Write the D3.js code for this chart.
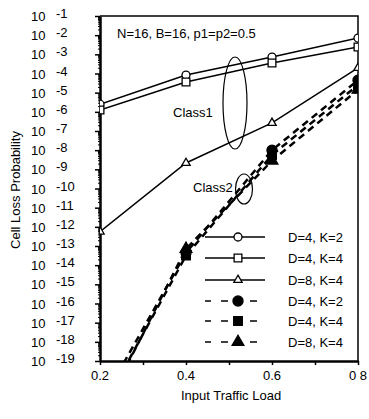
<!DOCTYPE html>
<html>
<head>
<meta charset="utf-8">
<script src="https://cdn.jsdelivr.net/npm/d3@7"></script>
<style>
  body { margin: 0; background: #fff; }
  svg { display: block; }
  text { font-family: "Liberation Sans", Arial, sans-serif; fill: #000; }
</style>
</head>
<body>
<div id="chart"></div>
<script>
// input traffic load (x)
const loads = [0.2, 0.4, 0.6, 0.8];
// log10 of cell loss probability
const class1_D4K2 = [-5.6, -4.08, -3.14, -2.15];
const class1_D4K4 = [-5.9, -4.44, -3.45, -2.62];
const class1_D8K4 = [-12.25, -8.67, -6.58, -3.71];
const class2_D4K2 = [-21.3, -13.35, -8.0, -4.35];
const class2_D4K4 = [-21.7, -13.5, -8.25, -4.6];
const class2_D8K4 = [-22.0, -13.15, -8.55, -4.85];
const seriesNames = ['D=4, K=2', 'D=4, K=4', 'D=8, K=4', 'D=4, K=2', 'D=4, K=4', 'D=8, K=4'];
const decades = d3.range(-19, 0); // -19 .. -1
const xTicks = [0.2, 0.4, 0.6, 0.8];

const W = 369, H = 419;
const margin = { top: 16, right: 11, bottom: 58, left: 100 };

const svg = d3.select('#chart').append('svg')
  .attr('width', W)
  .attr('height', H);

const x = d3.scaleLinear().domain([0.2, 0.8]).range([margin.left, W - margin.right]);
const y = d3.scaleLog().domain([1e-19, 1e-1]).range([H - margin.bottom, margin.top]);

const series = [
  { vals: class1_D4K2, sym: d3.symbolCircle, size: 50, fill: '#fff', dash: null },
  { vals: class1_D4K4, sym: d3.symbolSquare, size: 60, fill: '#fff', dash: null },
  { vals: class1_D8K4, sym: d3.symbolTriangle, size: 30, fill: '#fff', dash: null },
  { vals: class2_D4K2, sym: d3.symbolCircle, size: 80, fill: '#000', dash: '7,5' },
  { vals: class2_D4K4, sym: d3.symbolSquare, size: 75, fill: '#000', dash: '7,5' },
  { vals: class2_D8K4, sym: d3.symbolTriangle, size: 60, fill: '#000', dash: '7,5' }
];
series.forEach((s, i) => {
  s.name = seriesNames[i];
  s.points = loads.map((l, j) => ({ load: l, p: Math.pow(10, s.vals[j]) }));
});

// clip to plot area
svg.append('clipPath').attr('id', 'clip')
  .append('rect')
  .attr('x', x(0.2)).attr('y', y(1e-1))
  .attr('width', x(0.8) - x(0.2)).attr('height', y(1e-19) - y(1e-1));

// frame top and right
svg.append('path')
  .attr('d', `M${x(0.2)},${y(1e-1)}H${x(0.8)}V${y(1e-19)}`)
  .attr('fill', 'none').attr('stroke', '#000').attr('stroke-width', 1.5);

// y axis: major ticks + minor ticks
const minor = [];
decades.forEach(d => { if (d < -1) for (let k = 2; k <= 9; k++) minor.push(k * Math.pow(10, d)); });
svg.append('g')
  .attr('transform', `translate(${x(0.2)},0)`)
  .call(d3.axisLeft(y).tickValues(minor).tickSize(2).tickFormat(''))
  .call(g => g.select('.domain').remove());
const yAxis = svg.append('g')
  .attr('transform', `translate(${x(0.2)},0)`)
  .call(d3.axisLeft(y).tickValues(decades.map(d => Math.pow(10, d))).tickSize(5).tickSizeOuter(0).tickFormat(''));
yAxis.select('.domain').attr('stroke-width', 2.5);
yAxis.selectAll('.tick line').attr('stroke-width', 1.5);

// y tick labels "10 -n"
const yl = svg.append('g').selectAll('g').data(decades).join('g')
  .attr('transform', d => `translate(0,${y(Math.pow(10, d))})`);
yl.append('text')
  .attr('x', 31).attr('y', 5)
  .style('font-size', '13px')
  .text('10');
yl.append('text')
  .attr('x', 56).attr('y', 2)
  .style('font-size', '13px')
  .text(d => '-' + Math.abs(d));

// x axis
const xAxis = svg.append('g')
  .attr('transform', `translate(0,${y(1e-19)})`)
  .call(d3.axisBottom(x).tickValues(d3.range(0.2, 0.81, 0.1)).tickSize(4).tickSizeOuter(0).tickFormat(''));
xAxis.select('.domain').attr('stroke-width', 2.5);
xAxis.selectAll('.tick line').attr('stroke-width', 1.5);
svg.append('g').selectAll('text').data(xTicks).join('text')
  .attr('x', d => x(d)).attr('y', y(1e-19) + 19)
  .attr('text-anchor', 'middle')
  .style('font-size', '13px')
  .text(d => d === 0.8 ? '0 8' : d3.format('.1f')(d));

// axis titles
svg.append('text')
  .attr('x', 231).attr('y', 400)
  .attr('text-anchor', 'middle')
  .style('font-size', '13px')
  .text('Input Traffic Load');
svg.append('text')
  .attr('transform', 'translate(20,190) rotate(-90)')
  .attr('text-anchor', 'middle')
  .style('font-size', '13px')
  .text('Cell Loss Probability');

// lines
const line = d3.line().x(d => x(d.load)).y(d => y(d.p));
const plot = svg.append('g').attr('clip-path', 'url(#clip)');
series.forEach(s => {
  plot.append('path')
    .datum(s.points)
    .attr('d', line)
    .attr('fill', 'none')
    .attr('stroke', '#000')
    .attr('stroke-width', s.dash ? 2.5 : 1.5)
    .attr('stroke-dasharray', s.dash);
});
// markers
series.forEach(s => {
  plot.selectAll(null).data(s.points.filter(d => d.p >= 1e-19)).join('path')
    .attr('transform', d => `translate(${x(d.load)},${y(d.p)})`)
    .attr('d', d3.symbol().type(s.sym).size(s.size))
    .attr('fill', s.fill)
    .attr('stroke', '#000')
    .attr('stroke-width', 1.3);
});

// annotations
svg.append('text')
  .attr('x', 117).attr('y', 38)
  .style('font-size', '13px')
  .text('N=16, B=16, p1=p2=0.5');
svg.append('ellipse')
  .attr('cx', 235).attr('cy', 103).attr('rx', 12).attr('ry', 46)
  .attr('fill', 'none').attr('stroke', '#000').attr('stroke-width', 1.2);
svg.append('text')
  .attr('x', 173).attr('y', 117)
  .style('font-size', '13px')
  .text('Class1');
svg.append('ellipse')
  .attr('cx', 244).attr('cy', 189).attr('rx', 8.5).attr('ry', 15)
  .attr('fill', 'none').attr('stroke', '#000').attr('stroke-width', 1.2);
svg.append('text')
  .attr('x', 193).attr('y', 192)
  .style('font-size', '13px')
  .text('Class2');

// legend
const legendY = [237, 258, 280, 301, 321, 342];
const lg = svg.append('g').selectAll('g').data(series).join('g')
  .attr('transform', (d, i) => `translate(0,${legendY[i]})`);
lg.each(function (s) {
  const g = d3.select(this);
  if (s.dash) {
    [[205, 211], [221, 228], [250, 257]].forEach(([a, b]) => {
      g.append('line').attr('x1', a).attr('x2', b)
        .attr('stroke', '#000').attr('stroke-width', 1.5);
    });
  } else {
    g.append('line').attr('x1', 205).attr('x2', 265)
      .attr('stroke', '#000').attr('stroke-width', 1.5);
  }
  g.append('path')
    .attr('transform', 'translate(238,0)')
    .attr('d', d3.symbol().type(s.sym).size(s.size))
    .attr('fill', s.fill).attr('stroke', '#000').attr('stroke-width', 1.3);
  g.append('text')
    .attr('x', 288).attr('y', 5)
    .style('font-size', '13px')
    .text(s.name);
});
</script>
</body>
</html>
